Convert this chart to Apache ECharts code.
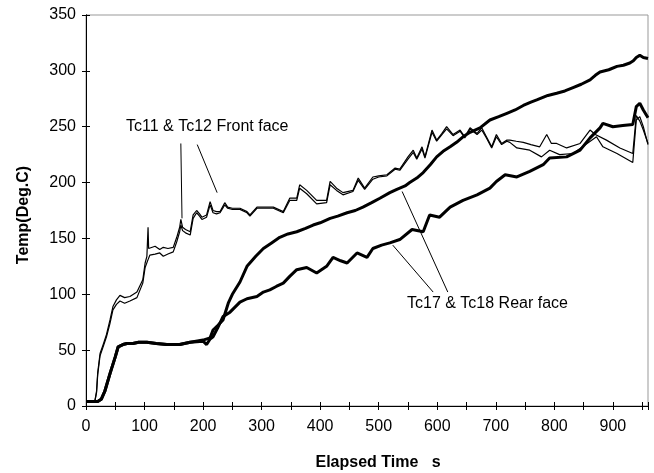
<!DOCTYPE html>
<html>
<head>
<meta charset="utf-8">
<script src="https://cdn.jsdelivr.net/npm/echarts@6/dist/echarts.min.js"></script>
<style>html,body{margin:0;padding:0;background:#fff}#c{width:654px;height:473px}</style>
</head>
<body>
<div id="c"></div>
<script>
// ---- data ----
const xTicks = [0,100,200,300,400,500,600,700,800,900];
const yTicks = [0,50,100,150,200,250,300,350];

const tc11Time = [0,15,18,20,24,30,35,41,46,52,58,66,75,87,97,101,104,106,107,109,118,126,132,140,149,155,160,162,165,170,178,183,189,194,198,206,212,217,223,229,237,242,250,263,275,280,292,305,320,337,348,360,365,377,394,411,417,428,439,456,465,476,490,500,514,528,536,550,559,565,574,579,591,599,608,616,627,639,647,656,668,676,684,693,701,710,719,724,735,747,760,775,787,795,804,821,844,861,870,889,912,934,940,946,952,960];
const tc11Temp = [4,4,13,30,47,56,64,77,89,95,99,97,98,102,113,128,134,160,141,140,143,140,142,141,142,151,160,167,160,158,156,171,175,172,169,171,183,175,174,174,182,178,177,177,174,171,178,178,178,174,186,186,198,193,184,184,201,195,191,193,204,195,205,206,207,213,212,223,229,222,232,223,247,238,244,250,243,247,241,249,244,249,241,232,243,235,238,238,237,236,234,232,243,235,235,231,235,247,243,238,231,226,260,255,247,235];

const tc12Time = [0,15,18,20,24,30,35,41,46,52,58,66,75,87,97,101,106,109,118,126,132,140,149,155,160,162,165,170,178,183,189,194,198,206,212,217,223,229,237,242,250,263,275,280,292,305,320,337,348,360,365,377,394,411,417,428,439,456,465,476,490,500,514,528,536,550,559,565,574,579,591,599,608,616,627,639,647,656,668,676,684,693,701,710,719,724,736,758,778,792,809,832,856,872,883,907,934,940,946,952,960];
const tc12Temp = [4,4,12,28,45,54,62,74,86,91,94,92,94,97,110,124,131,135,136,137,134,136,138,147,156,162,157,155,153,168,173,170,167,169,180,173,172,173,180,177,176,176,173,170,177,177,177,173,184,184,195,190,181,182,198,193,189,192,202,194,203,205,206,212,211,221,227,221,230,222,245,237,243,248,242,246,240,248,243,247,240,231,241,234,237,236,231,229,223,229,225,226,235,241,232,226,218,256,259,250,234];

const tc17Time = [0,10,20,26,32,41,50,55,63,70,80,90,104,120,138,160,178,200,212,217,225,234,243,250,263,275,290,303,317,331,345,360,375,388,400,417,430,446,460,473,488,502,519,531,545,553,565,576,588,599,610,622,633,644,656,673,690,705,719,733,747,760,770,789,804,818,832,846,861,870,878,893,907,918,929,935,940,946,952,960];
const tc17Temp = [4,4,4,6,13,29,44,53,55,56,56,57,57,56,55,55,57,59,61,68,72,77,92,100,111,125,134,141,146,151,154,156,159,162,164,168,170,173,175,178,182,186,191,194,197,200,204,209,216,223,228,232,236,241,245,249,256,259,262,265,269,272,274,278,280,282,285,288,292,296,299,301,304,305,307,309,312,314,312,311];

const tc18Time = [0,10,20,26,32,41,50,55,63,70,80,90,104,120,138,160,178,200,206,212,217,225,234,246,263,275,292,303,314,325,337,348,360,377,394,411,422,435,446,463,480,490,505,519,536,557,576,587,604,622,644,668,690,701,716,736,758,781,792,821,844,861,878,883,900,917,934,940,946,952,960];
const tc18Temp = [4,4,4,6,13,29,44,53,55,56,56,57,57,56,55,55,57,58,55,60,62,70,80,84,93,96,98,102,104,107,110,116,122,124,119,125,133,130,128,137,133,141,144,146,149,158,156,171,169,178,184,189,195,201,207,205,210,216,222,223,229,240,249,253,250,251,252,268,271,265,258];

const frontLabel = 'Tc11 & Tc12 Front face';
const rearLabel = 'Tc17 & Tc18 Rear face';
// pointer lines (data coordinates)
const frontPointers = [[[162,235],[164,168]],[[190,234],[224,191]]];
const rearPointers = [[[540,192],[618,102]],[[524,144],[593,102]]];

// ---- chart ----
const FONT = "'Liberation Sans', Arial, sans-serif";
const zip = (a,b) => a.map((t,i)=>[t,b[i]]);
const chart = echarts.init(document.getElementById('c'), null, {renderer:'canvas'});

function xAx(inside, labels){
  return {type:'value', min:0, max:960, interval:50, position:'bottom', offset:0,
    axisLine:{show:true, onZero:false, lineStyle:{color:'#000', width:1}},
    axisTick:{show:true, inside:inside, length:4, lineStyle:{color:'#000'}},
    axisLabel:{show:labels, margin:13, fontSize:16, color:'#000', fontFamily:FONT,
      formatter:v=> xTicks.indexOf(v)>=0 ? String(v) : ''},
    splitLine:{show:false}};
}
function yAx(inside, labels){
  return {type:'value', min:0, max:350, interval:50, position:'left', offset:0,
    axisLine:{show:true, onZero:false, lineStyle:{color:'#000', width:1}},
    axisTick:{show:true, inside:inside, length:4, lineStyle:{color:'#000'}},
    axisLabel:{show:labels, margin:10, fontSize:16, color:'#000', fontFamily:FONT,
      formatter:v=> yTicks.indexOf(v)>=0 ? String(v) : ''},
    splitLine:{show:false}};
}
function lineSeries(name, t, v, w, extra){
  return Object.assign({name:name, type:'line', data:zip(t,v), showSymbol:false, symbol:'none',
    xAxisIndex:0, yAxisIndex:0, lineStyle:{color:'#000', width:w}, itemStyle:{color:'#000'},
    silent:true, z:3}, extra||{});
}
function pointerLines(arr){
  return {silent:true, symbol:['none','none'], label:{show:false},
    lineStyle:{color:'#000', width:1, type:'solid'},
    data: arr.map(p=>[{coord:p[0]},{coord:p[1]}])};
}

chart.setOption({
  animation:false,
  backgroundColor:'#fff',
  grid:{left:86, right:6, top:15, bottom:67, show:true, borderColor:'#999', borderWidth:1, backgroundColor:'transparent'},
  xAxis:[xAx(false,true), xAx(true,false)],
  yAxis:[yAx(false,true), yAx(true,false)],
  series:[
    lineSeries('Tc11', tc11Time, tc11Temp, 1.2, {markLine:pointerLines(frontPointers)}),
    lineSeries('Tc12', tc12Time, tc12Temp, 1.2),
    lineSeries('Tc17', tc17Time, tc17Temp, 3),
    lineSeries('Tc18', tc18Time, tc18Temp, 3, {markLine:pointerLines(rearPointers)})
  ],
  graphic:[
    {type:'text', left:126, top:119, style:{text:frontLabel, font:'16px '+FONT, fill:'#000'}},
    {type:'text', left:407, top:296, style:{text:rearLabel, font:'16px '+FONT, fill:'#000'}},
    {type:'text', x:378, y:463, style:{text:'Elapsed Time   s', font:'bold 16px '+FONT, fill:'#000', align:'center', verticalAlign:'middle'}},
    {type:'text', x:24, y:215, rotation:Math.PI/2, style:{text:'Temp(Deg.C)', font:'bold 16px '+FONT, fill:'#000', align:'center', verticalAlign:'middle'}}
  ]
});
</script>
</body>
</html>
